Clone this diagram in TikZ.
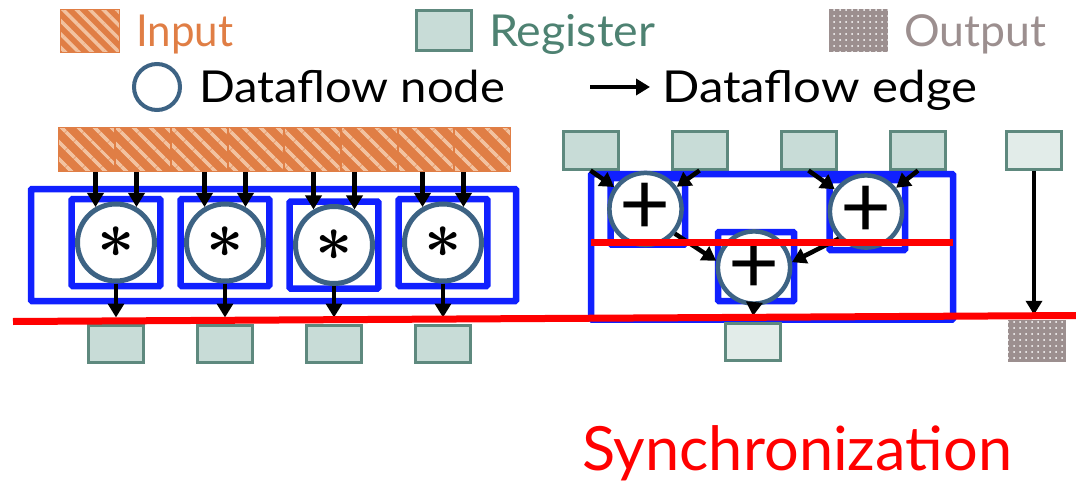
\documentclass[tikz,border=0pt]{standalone}
\usepackage{fontspec}
\setmainfont{Lato}
\usetikzlibrary{arrows.meta,patterns.meta}
\definecolor{inorange}{HTML}{E07E45}
\definecolor{instripe}{HTML}{F2C2A0}
\definecolor{regfill}{HTML}{C8DCD7}
\definecolor{regfilllight}{HTML}{E2ECE9}
\definecolor{regdraw}{HTML}{5E897E}
\definecolor{regtext}{HTML}{4E8272}
\definecolor{outfill}{HTML}{9C8F8F}
\definecolor{nodeblue}{HTML}{3D6384}
\definecolor{boxblue}{HTML}{1020FF}
\newcommand\fitw[2]{\resizebox{#1}{\height}{#2}}
\begin{document}
\begin{tikzpicture}[x=1pt,y=-1pt,
  arr/.style={line width=4.5pt,-{Triangle[length=14pt,width=16pt]}},
  reg/.style={draw=regdraw,line width=3pt,fill=regfill,minimum width=55pt,minimum height=37pt,inner sep=0pt},
  regl/.style={reg,fill=regfilllight},
  incell/.style={draw=inorange,line width=1pt,preaction={fill=inorange},
    pattern={Lines[angle=-45,distance=13pt,line width=4pt]},pattern color=instripe,
    minimum width=55.6pt,minimum height=44pt,inner sep=0pt},
  outbox/.style={preaction={fill=outfill},pattern={Dots[distance=6pt,radius=1pt]},pattern color=white,
    minimum width=58pt,minimum height=42pt,inner sep=0pt},
  opL/.style={circle,draw=nodeblue,line width=5pt,fill=white,minimum size=77pt,inner sep=0pt},
  opR/.style={circle,draw=nodeblue,line width=4.5pt,fill=white,minimum size=61pt,inner sep=0pt,
    font=\fontsize{88}{88}\selectfont},
  bluebox/.style={draw=boxblue,line width=6.5pt,rounded corners=1pt},
  syncline/.style={draw=red,line width=7pt},
  lbl/.style={anchor=base west,inner sep=0pt,font=\fontsize{44}{44}\selectfont},
]
\useasboundingbox (0,0) rectangle (1076,484);
% ---------- legend ----------
\node[incell,minimum width=59pt,minimum height=43pt,
  pattern={Lines[angle=-45,distance=9.5pt,line width=3.5pt]}] (legin) at (90,31) {};
\node[lbl,text=inorange] (tin) at (136,47) {\fitw{97pt}{Input}};
\node[reg,minimum height=40pt] (legreg) at (444,31) {};
\node[lbl,text=regtext] (treg) at (489,47) {\fitw{166pt}{Register}};
\node[outbox,minimum width=59pt,minimum height=43pt] (legout) at (858.5,30.5) {};
\node[lbl,text=outfill] (tout) at (904,47) {\fitw{142pt}{Output}};
\node[circle,draw=nodeblue,line width=4pt,minimum size=46pt,inner sep=0pt] (legnode) at (157,87) {};
\node[lbl] (tnode) at (199,103) {\fitw{306pt}{Dataflow node}};
\coordinate (legA) at (590,87);
\coordinate (legB) at (650,87);
\draw[arr] (legA) -- (legB);
\node[lbl] (tedge) at (662,103) {\fitw{315pt}{Dataflow edge}};
% ---------- left section ----------
\foreach \i in {1,...,8} \node[incell] (in\i) at ({58+28.3+56.6*(\i-1)},149.5) {};
\draw[bluebox] (31,189) rectangle (516,301);
\foreach \c/\k/\dy in {116/1/0, 225/2/0, 334/3/2.5, 443/4/0} {
  \draw[bluebox] (\c-44.3,199+\dy) rectangle (\c+44.3,286+\dy);
  \node[opL] (m\k) at (\c,242.5+\dy) {\scalebox{6.5}{\boldmath$\ast$}};
  \node[reg] (o\k) at (\c,343.5) {};
  \draw[arr] (m\k.120 |- in1.south) -- (m\k.120);
  \draw[arr] (m\k.60 |- in1.south) -- (m\k.60);
  \draw[arr,shorten >=6pt] (m\k.south) -- (o\k.north);
}
% ---------- right section ----------
\node[reg] (r1) at (590.5,150.5) {};
\node[reg] (r2) at (699.5,150.5) {};
\node[reg] (r3) at (808.5,150.5) {};
\node[reg] (r4) at (918,150.5) {};
\node[regl] (r5) at (1034,150.5) {};
\draw[bluebox] (591,174) rectangle (953,319.5);
\draw[bluebox] (610.5,178) rectangle (685,244.5);
\draw[bluebox] (829.5,180) rectangle (905,250);
\draw[bluebox] (718,232) rectangle (794,301);
\node[opR] (cA) at (645.5,209) {+};
\node[opR] (cB) at (866,211.5) {+};
\node[opR] (cC) at (754,267.5) {+};
\node[regl] (rb) at (752.5,342) {};
\node[outbox] (ob) at (1037,341) {};
\draw[arr] (r1.south) -- (cA);
\draw[arr] (r2.south) -- (cA);
\draw[arr] (r3.south) -- (cB);
\draw[arr] (r4.south) -- (cB);
\draw[arr] (cA.-40) -- (cC.170);
\draw[arr] (cB.-135) -- (cC.8);
\draw[arr,shorten >=6pt] (cC.south) -- (rb.north);
\draw[arr,shorten >=5pt] (r5.south) -- (r5.south |- ob.north);
% ---------- synchronization lines ----------
\coordinate (sL) at (13,321.5);
\coordinate (sR) at (1076,315.5);
\draw[syncline] (sL) -- (sR);
\coordinate (iL) at (591,242.5);
\coordinate (iR) at (953,242.5);
\draw[syncline] (iL) -- (iR);
\node[lbl,text=red,font=\fontsize{61}{61}\selectfont] (tsync) at (582,470) {\fitw{430pt}{Synchronization}};
\end{tikzpicture}
\end{document}
